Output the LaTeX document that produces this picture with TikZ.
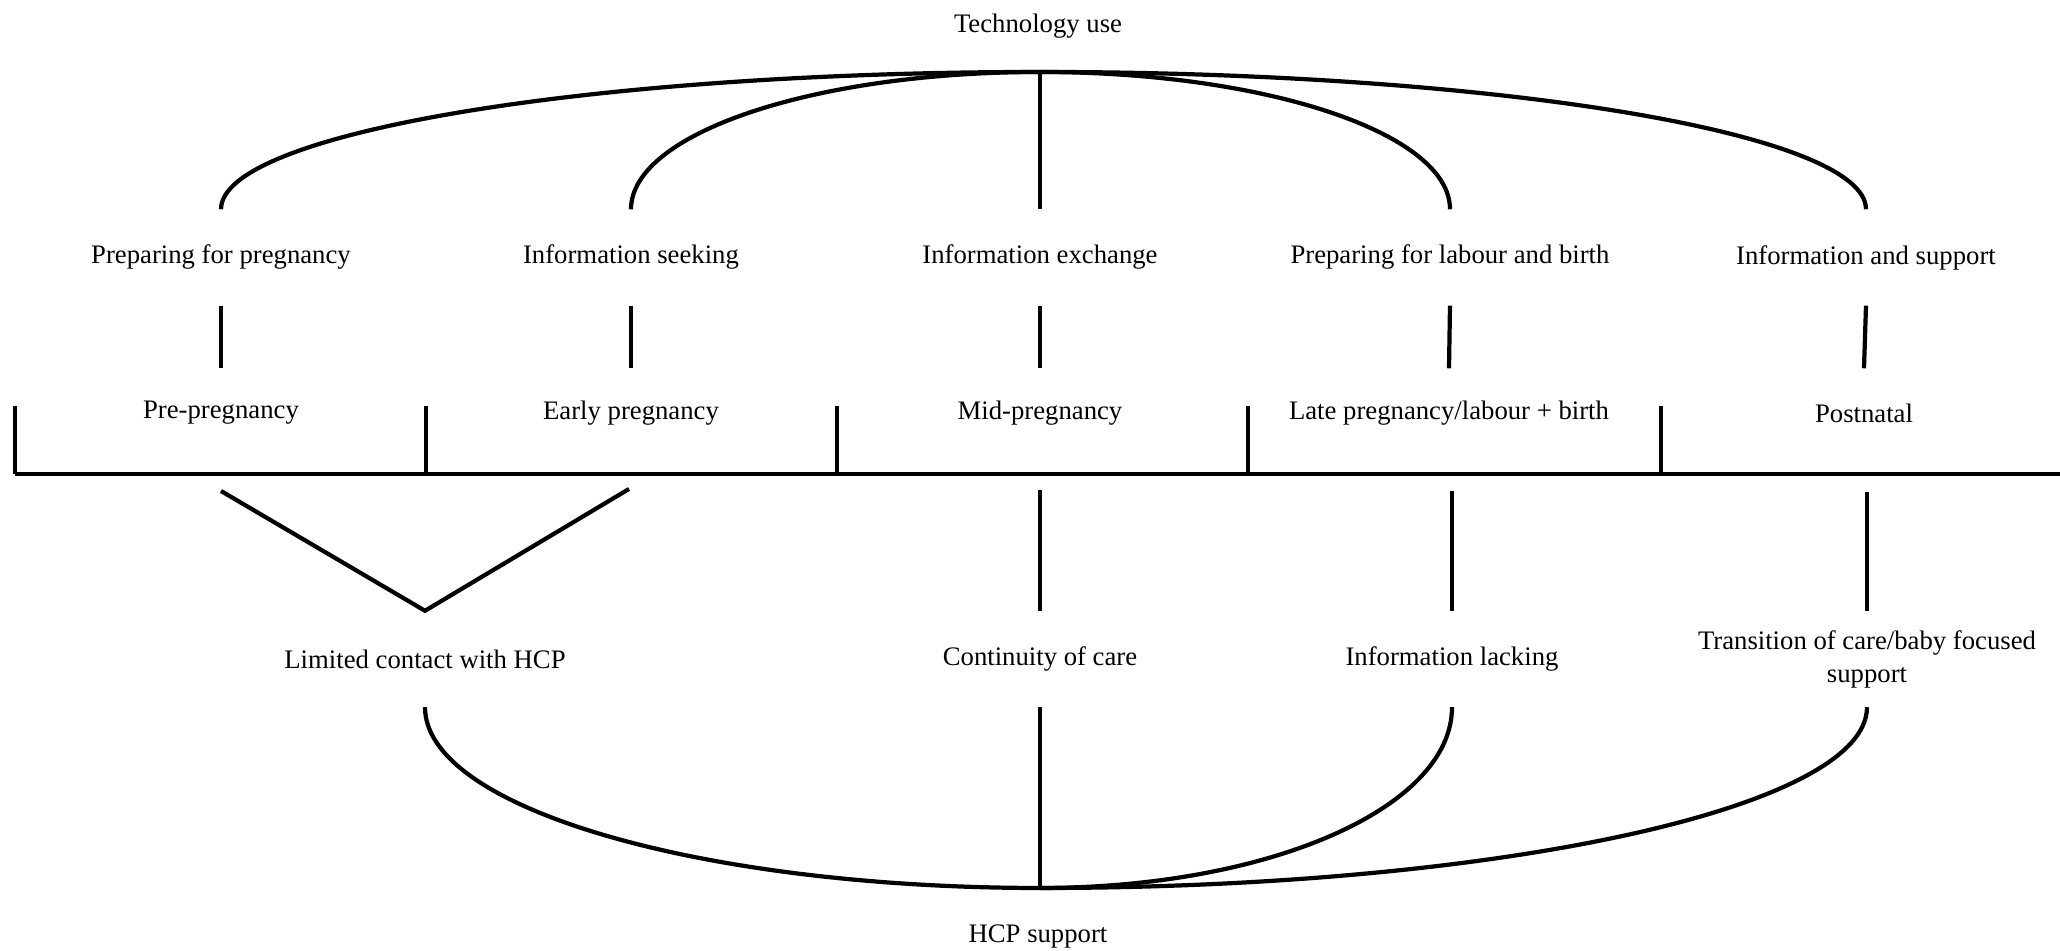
\documentclass[tikz,border=0pt]{standalone}
\usepackage{fontspec}
\setmainfont{Liberation Serif}
\usetikzlibrary{positioning}

\tikzset{
  lbl/.style={font=\fontsize{7.6}{9.4}\selectfont, align=center, inner sep=0pt, minimum height=0.95cm},
  link/.style={line width=1.2pt},
}

\begin{document}
\begin{tikzpicture}
        \useasboundingbox (0,0) rectangle (20.6,9.51);

        % Top theme and its branches
        \node[lbl, minimum height=0pt] (tech) at (10.38,9.25) {Technology use};
        \coordinate (top) at (10.40,8.79);

        \node[lbl] (prep)   at (2.21,6.935)  {Preparing for pregnancy};
        \node[lbl] (seek)   at (6.31,6.935)  {Information seeking};
        \node[lbl] (exch)   at (10.40,6.935) {Information exchange};
        \node[lbl] (labour) at (14.50,6.935) {Preparing for labour and birth};
        \node[lbl] (supp)   at (18.66,6.935) {Information and support};

        \draw[link] (top) .. controls +(-4.52,0) and +(0,0.76) .. (prep.north);
        \draw[link] (top) .. controls +(-2.26,0) and +(0,0.76) .. (seek.north);
        \draw[link] (top) -- (exch.north);
        \draw[link] (top) .. controls +(2.26,0) and +(0,0.76) .. (labour.north);
        \draw[link] (top) .. controls +(4.56,0) and +(0,0.76) .. (supp.north);

        % Periods on the timeline
        \node[lbl, minimum height=0.88cm] (pre)   at (2.21,5.38)  {Pre-pregnancy};
        \node[lbl, minimum height=0.88cm] (early) at (6.31,5.38)  {Early pregnancy};
        \node[lbl, minimum height=0.88cm] (mid)   at (10.40,5.38) {Mid-pregnancy};
        \node[lbl, minimum height=0.88cm] (late)  at (14.49,5.38) {Late pregnancy/labour + birth};
        \node[lbl, minimum height=0.88cm] (post)  at (18.64,5.38) {Postnatal};

        \draw[link] (prep.south) -- (pre.north);
        \draw[link] (seek.south) -- (early.north);
        \draw[link] (exch.south) -- (mid.north);
        \draw[link] (labour.south) -- (late.north);
        \draw[link] (supp.south) -- (post.north);

        % Timeline
        \draw[line width=1.4pt] (0.15,4.77) -- (20.6,4.77);
        \foreach \x in {0.15,4.26,8.37,12.48,16.61}
          \draw[line width=1.2pt] (\x,4.77) -- (\x,5.45);

        % Branches below the timeline
        \coordinate (pre-b)   at (2.21,4.60);
        \coordinate (early-b) at (6.29,4.62);
        \coordinate (mid-b)   at (10.40,4.61);
        \coordinate (late-b)  at (14.52,4.60);
        \coordinate (post-b)  at (18.67,4.59);

        \node[lbl] (limited) at (4.25,2.92)  {Limited contact with HCP};
        \node[lbl] (cont)    at (10.40,2.92) {Continuity of care};
        \node[lbl] (lack)    at (14.52,2.92) {Information lacking};
        \node[lbl] (trans)   at (18.67,2.92) {Transition of care/baby focused\\support};

        \draw[link] (pre-b) -- (limited.north) -- (early-b);
        \draw[link] (mid-b) -- (cont.north);
        \draw[link] (late-b) -- (lack.north);
        \draw[link] (post-b) -- (trans.north);

        % Bottom theme
        \coordinate (bot) at (10.40,0.63);
        \node[lbl, minimum height=0pt] (hcp) at (10.38,0.14) {HCP support};

        \draw[link] (limited.south) .. controls +(0,-1.01) and +(-3.39,0) .. (bot);
        \draw[link] (cont.south) -- (bot);
        \draw[link] (lack.south) .. controls +(0,-1.01) and +(2.28,0) .. (bot);
        \draw[link] (trans.south) .. controls +(0,-1.01) and +(4.57,0) .. (bot);
    \end{tikzpicture}
\end{document}
